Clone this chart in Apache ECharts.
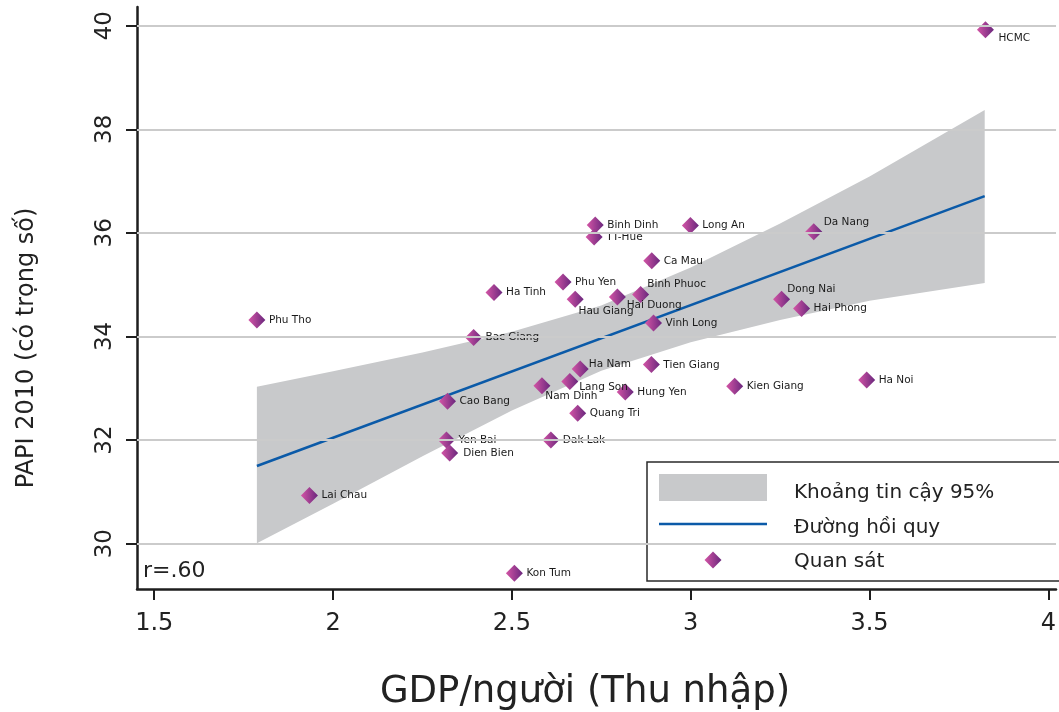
<!DOCTYPE html>
<html>
<head>
<meta charset="utf-8">
<script src="https://cdn.jsdelivr.net/npm/echarts@6/dist/echarts.min.js"></script>
<style>
  html, body { margin: 0; padding: 0; background: #fff; }
  #chart { width: 1059px; height: 712px; }
</style>
</head>
<body>
<div id="chart"></div>
<script>
// Provinces: GDP per capita vs. PAPI 2010 (weighted)
const provinces = ['HCMC', 'Da Nang', 'Long An', 'Binh Dinh', 'TT-Hue', 'Ca Mau', 'Phu Yen', 'Ha Tinh',
  'Hau Giang', 'Hai Duong', 'Binh Phuoc', 'Vinh Long', 'Dong Nai', 'Hai Phong', 'Phu Tho', 'Bac Giang',
  'Ha Nam', 'Tien Giang', 'Ha Noi', 'Kien Giang', 'Nam Dinh', 'Lang Son', 'Hung Yen', 'Cao Bang',
  'Quang Tri', 'Yen Bai', 'Dak Lak', 'Dien Bien', 'Lai Chau', 'Kon Tum'];
const gdp = [3.824, 3.344, 2.999, 2.733, 2.730, 2.891, 2.643, 2.450,
  2.677, 2.795, 2.860, 2.896, 3.254, 3.310, 1.787, 2.393,
  2.691, 2.890, 3.492, 3.123, 2.584, 2.662, 2.817, 2.320,
  2.684, 2.317, 2.609, 2.326, 1.934, 2.507];
const papi = [39.92, 36.02, 36.14, 36.15, 35.92, 35.46, 35.05, 34.85,
  34.72, 34.76, 34.81, 34.26, 34.72, 34.54, 34.32, 33.98,
  33.37, 33.46, 33.16, 33.04, 33.05, 33.13, 32.93, 32.75,
  32.52, 32.00, 32.00, 31.75, 30.93, 29.43];

// Fitted regression line (end points) and 95% confidence band
const fitX = [1.787, 3.822];
const fitY = [31.50, 36.71];
const bandX = [1.787, 2.0, 2.25, 2.5, 2.75, 3.0, 3.25, 3.5, 3.822];
const bandLow = [30.01, 30.77, 31.69, 32.57, 33.34, 33.89, 34.32, 34.69, 35.03];
const bandHigh = [33.03, 33.33, 33.69, 34.09, 34.60, 35.33, 36.18, 37.09, 38.37];

const xTicks = [1.5, 2, 2.5, 3, 3.5, 4];
const yTicks = [30, 32, 34, 36, 38, 40];

// Labels that sit away from the default right-hand spot
const labelNudge = {
  'HCMC': [1, 8], 'Da Nang': [-2, -10], 'Hau Giang': [-8.7, 12], 'Hai Duong': [-2.7, 8.3],
  'Binh Phuoc': [-5.3, -10], 'Ha Nam': [-3.4, -5.3], 'Lang Son': [-2.6, 5.3],
  'Nam Dinh': [-8.6, 11], 'Dong Nai': [-6.4, -10.3], 'Tien Giang': [0, 1], 'Dien Bien': [1.5, 0]
};

const FONT = 'DejaVu Sans';
const diamondFill = () => new echarts.graphic.LinearGradient(0, 0, 1, 0, [
  { offset: 0, color: '#d455a6' }, { offset: 1, color: '#6a277d' }
]);

const chart = echarts.init(document.getElementById('chart'), null, { renderer: 'canvas' });

const points = provinces.map((name, i) => {
  const nudge = labelNudge[name] || [0, 0];
  return {
    name: name,
    value: [gdp[i], papi[i]],
    label: {
      show: true, position: 'right', distance: 3.5, offset: nudge, formatter: '{b}',
      fontFamily: FONT, fontSize: 10.5, color: '#1a1a1a'
    }
  };
});

const bandRows = bandX.map((x, i) => [x, bandLow[i], bandHigh[i]]);

const option = {
  animation: false,
  backgroundColor: '#ffffff',
  grid: { left: 137, right: 0, top: 7, bottom: 123, containLabel: false },
  xAxis: {
    type: 'value', min: 1.4518, max: 4.0214,
    axisLine: { show: true, onZero: false, lineStyle: { color: '#1e1e1e', width: 2.5 } },
    axisTick: { show: true, customValues: xTicks, length: 11, lineStyle: { color: '#1e1e1e', width: 2 } },
    axisLabel: { customValues: xTicks, margin: 23, fontFamily: FONT, fontSize: 24, color: '#222',
      formatter: v => String(v) },
    splitLine: { show: false }
  },
  yAxis: {
    type: 'value', min: 29.125, max: 40.36,
    axisLine: { show: true, onZero: false, lineStyle: { color: '#1e1e1e', width: 2.5 } },
    axisTick: { show: true, customValues: yTicks, length: 11, lineStyle: { color: '#1e1e1e', width: 2 } },
    axisLabel: { customValues: yTicks, rotate: 90, margin: 20, fontFamily: FONT, fontSize: 23, color: '#222',
      formatter: v => String(v) },
    splitLine: { show: false }
  },
  series: [
    {
      // horizontal reference lines at the y ticks
      type: 'line', data: [], z: 0, silent: true,
      markLine: {
        silent: true, symbol: 'none', animation: false,
        label: { show: false },
        lineStyle: { color: '#cbcbcb', width: 2, type: 'solid' },
        emphasis: { disabled: true },
        data: yTicks.map(v => ({ yAxis: v }))
      }
    },
    {
      name: 'Khoảng tin cậy 95%', type: 'custom', z: 1, silent: true,
      data: bandRows,
      encode: { x: 0, y: [1, 2] },
      renderItem: (params, api) => {
        if (params.dataIndex !== 0) return null;
        const pts = [];
        bandRows.forEach(r => pts.push(api.coord([r[0], r[2]])));
        for (let i = bandRows.length - 1; i >= 0; i--) pts.push(api.coord([bandRows[i][0], bandRows[i][1]]));
        return { type: 'polygon', shape: { points: pts }, style: { fill: '#c8c9cb' } };
      }
    },
    {
      name: 'Đường hồi quy', type: 'line', z: 2, silent: true,
      data: fitX.map((x, i) => [x, fitY[i]]),
      showSymbol: false, symbol: 'none',
      lineStyle: { color: '#0b5aa8', width: 2.5 }
    },
    {
      name: 'Quan sát', type: 'scatter', z: 3, silent: true,
      data: points,
      symbol: 'diamond', symbolSize: 17,
      itemStyle: { color: diamondFill(), opacity: 1 }
    }
  ],
  graphic: [
    { type: 'text', left: 143, top: 560, z: 5,
      style: { text: 'r=.60', fontFamily: FONT, fontSize: 22, fill: '#222' } },
    { type: 'text', x: 585, y: 692, z: 5,
      style: { text: 'GDP/người (Thu nhập)', fontFamily: FONT, fontSize: 37, fill: '#222',
        align: 'center', verticalAlign: 'middle' } },
    { type: 'text', x: 27, y: 348, rotation: Math.PI / 2, z: 5,
      style: { text: 'PAPI 2010 (có trọng số)', fontFamily: FONT, fontSize: 24, fill: '#222',
        align: 'center', verticalAlign: 'middle' } },
    { type: 'group', z: 10, children: [
      { type: 'rect', shape: { x: 647, y: 462, width: 430, height: 119 },
        style: { fill: '#ffffff', stroke: '#2a2a2a', lineWidth: 1.5 } },
      { type: 'rect', shape: { x: 659, y: 474, width: 108, height: 27 }, style: { fill: '#c8c9cb' } },
      { type: 'line', shape: { x1: 659, y1: 524, x2: 767, y2: 524 },
        style: { stroke: '#0b5aa8', lineWidth: 2.5 } },
      { type: 'polygon', shape: { points: [[704.5, 560], [713, 551.5], [721.5, 560], [713, 568.5]] },
        style: { fill: diamondFill() } },
      { type: 'text', x: 794, y: 493, style: { text: 'Khoảng tin cậy 95%', fontFamily: FONT, fontSize: 20,
        fill: '#222', verticalAlign: 'middle' } },
      { type: 'text', x: 794, y: 528, style: { text: 'Đường hồi quy', fontFamily: FONT, fontSize: 20,
        fill: '#222', verticalAlign: 'middle' } },
      { type: 'text', x: 794, y: 562, style: { text: 'Quan sát', fontFamily: FONT, fontSize: 20,
        fill: '#222', verticalAlign: 'middle' } }
    ] }
  ]
};

chart.setOption(option);
</script>
</body>
</html>
